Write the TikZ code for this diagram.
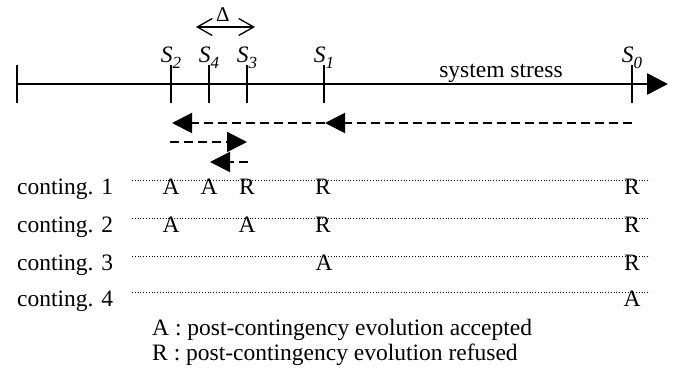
\documentclass[tikz,border=0pt]{standalone}
\usepackage{fontspec}
\setmainfont{Liberation Serif}
\usetikzlibrary{arrows.meta,calc}

% italic state label S with a lowered italic index
\newcommand{\stlabel}[1]{\textit{S}\raisebox{-0.25em}{\fontsize{17}{17}\selectfont\textit{#1}}}

\begin{document}
\begin{tikzpicture}[x=1pt,y=-1pt,
    txt/.style={inner sep=0pt,font=\fontsize{23.5}{27}\selectfont},
    axis/.style={line width=2.6pt,-{Triangle[length=21pt,width=21pt]}},
    tick/.style={line width=2pt},
    dasharrow/.style={line width=2pt,dash pattern=on 9pt off 5pt,-{Triangle[length=20pt,width=20pt]}},
    dotrow/.style={line width=1pt,dash pattern=on 1pt off 1.8pt},
    deltaarrow/.style={line width=1.3pt,{Straight Barb[length=15pt,width=17pt]}-{Straight Barb[length=15pt,width=17pt]}},
    verdict/.style={txt,anchor=base},
    slabel/.style={txt,anchor=base}]
\useasboundingbox (0,0) rectangle (686,379);

% stress axis
\coordinate (L) at (17,84);
\coordinate (Rend) at (668,84);
\coordinate (s2) at (171,84);
\coordinate (s4) at (209,84);
\coordinate (s3) at (247,84);
\coordinate (s1) at (324,84);
\coordinate (s0) at (632,84);
\draw[axis] (L) -- (Rend);
\foreach \p in {L,s2,s4,s3,s1,s0}
  \draw[tick] ($(\p)+(0,-19)$) -- ($(\p)+(0,19)$);

\node[txt,anchor=base] (stress) at (501,78) {system stress};

% state labels
\node[slabel] (l2) at ([yshift=21pt]s2) {\stlabel{2}};
\node[slabel] (l4) at ([yshift=21pt]s4) {\stlabel{4}};
\node[slabel] (l3) at ([yshift=21pt]s3) {\stlabel{3}};
\node[slabel] (l1) at ([yshift=21pt]s1) {\stlabel{1}};
\node[slabel] (l0) at ([yshift=21pt]s0) {\stlabel{0}};

% width of the refinement interval
\coordinate (da) at (196,27);
\coordinate (db) at (255,27);
\draw[deltaarrow] (da) -- (db);
\node[txt,anchor=base,font=\fontsize{21}{23}\selectfont] (delta) at (223,22) {Δ};

% search steps
\coordinate (a0) at (632,123);
\coordinate (a1) at (325,123);
\coordinate (a2) at (172,123);
\draw[dasharrow] (a0) -- (a1);
\draw[dasharrow] (a1) -- (a2);
\coordinate (b0) at (170,142);
\coordinate (b1) at (247,142);
\draw[dasharrow] (b0) -- (b1);
\coordinate (c0) at (248,162);
\coordinate (c1) at (210,162);
\draw[dasharrow] (c0) -- (c1);

% contingency rows
\foreach \i/\y in {1/181,2/219,3/257,4/293}{
  \coordinate (r\i a) at (132,\y);
  \coordinate (r\i b) at (650,\y);
  \draw[dotrow] (r\i a) -- (r\i b);
  \node[txt,anchor=base west] (c\i) at (17,\y+14) {conting. \i};
}

% verdicts
\node[verdict] (m11) at (171,195) {A};
\node[verdict] (m12) at (209,195) {A};
\node[verdict] (m13) at (247,195) {R};
\node[verdict] (m14) at (323,195) {R};
\node[verdict] (m15) at (632,195) {R};
\node[verdict] (m21) at (171,233) {A};
\node[verdict] (m22) at (247,233) {A};
\node[verdict] (m23) at (323,233) {R};
\node[verdict] (m24) at (632,233) {R};
\node[verdict] (m31) at (324,271) {A};
\node[verdict] (m32) at (632,271) {R};
\node[verdict] (m41) at (632,307) {A};

% legend
\node[txt,anchor=base west] (legA) at (152,336) {A : post-contingency evolution accepted};
\node[txt,anchor=base west] (legR) at (152,361) {R : post-contingency evolution refused};
\end{tikzpicture}
\end{document}
